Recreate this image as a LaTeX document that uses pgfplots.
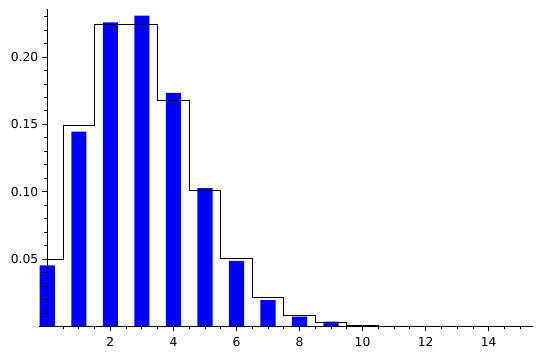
\documentclass[border=0pt]{standalone}
\usepackage{fontspec}
\setmainfont{DejaVu Sans}
\usepackage{pgfplots}
\pgfplotsset{compat=1.18}
\begin{document}
\begin{tikzpicture}
\begin{axis}[
  scale only axis, width=494pt, height=317pt,
  xmin=-0.27, xmax=15.4, ymin=0, ymax=0.2353,
  axis lines=middle, axis line style={-, line width=0.8pt},
  axis on top=true,
  tick align=outside,
  major tick length=5pt, minor tick length=3pt,
  every tick/.style={black, line width=0.8pt},
  xtick={0,2,4,6,8,10,12,14},
  xticklabels={{},2,4,6,8,10,12,14},
  minor xtick={0.5,1,1.5,2.5,3,3.5,4.5,5,5.5,6.5,7,7.5,8.5,9,9.5,10.5,11,11.5,12.5,13,13.5,14.5,15},
  ytick={0.05,0.10,0.15,0.20},
  yticklabels={0.05,0.10,0.15,0.20},
  minor ytick={0.01,0.02,0.03,0.04,0.06,0.07,0.08,0.09,0.11,0.12,0.13,0.14,0.16,0.17,0.18,0.19,0.21,0.22,0.23},
  /pgf/number format/assume math mode=true,
  tick label style={font=\fontsize{12.3}{14}\selectfont, black},
  xticklabel style={yshift=-2.5pt},
  yticklabel style={xshift=-0.5pt},
  clip=false,
]
\addplot[ybar, bar width=0.48, fill={rgb,255:red,0;green,0;blue,255}, draw=none] coordinates {
(0,0.0453) (1,0.1446) (2,0.2257) (3,0.2306) (4,0.1733) (5,0.1026) (6,0.0487)
(7,0.0196) (8,0.0072) (9,0.0035) (10,0.0008) (11,0.0002)
};
\addplot[const plot, black, line width=0.8pt] coordinates {
(0,0.0498) (0.5,0.1494) (1.5,0.2240) (2.5,0.2240) (3.5,0.1680) (4.5,0.1008)
(5.5,0.0504) (6.5,0.0216) (7.5,0.0081) (8.5,0.0027) (9.5,0.0008) (10.5,0.0002)
(11.5,0.00005) (12.5,0.00001) (13.5,0.000002) (14.5,0.0000004)
};
\coordinate (sw) at (rel axis cs:0,0);
\end{axis}
\useasboundingbox (sw) ++(-38.8pt,-30.6pt) rectangle ++(540pt,357pt);
\end{tikzpicture}
\end{document}
